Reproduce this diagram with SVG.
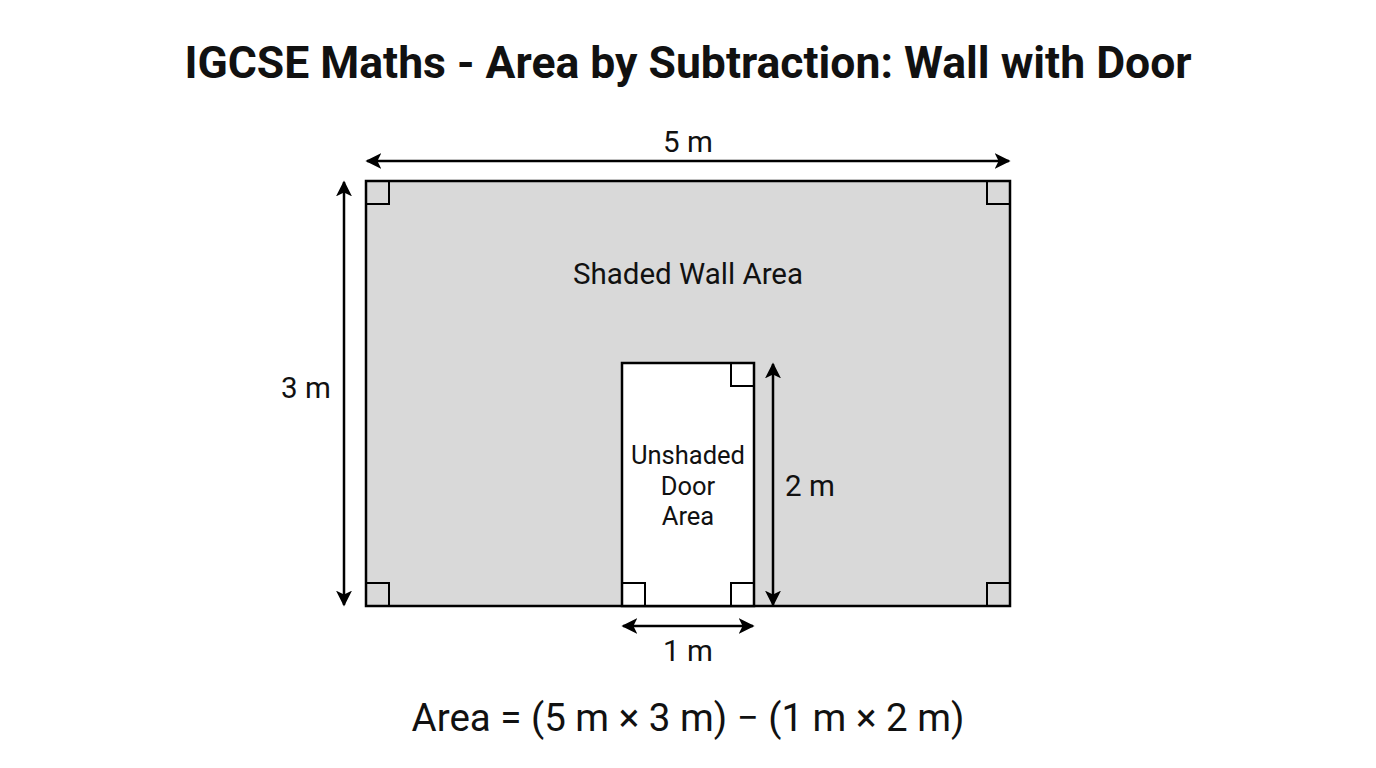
<svg xmlns="http://www.w3.org/2000/svg" width="1376" height="768" viewBox="0 0 1376 768">
<defs>
<marker id="ah" viewBox="0 0 10 10" refX="9" refY="5" markerWidth="16" markerHeight="16" markerUnits="userSpaceOnUse" orient="auto-start-reverse">
<path d="M0,0 L10,5 L0,10 L2.5,5 Z" fill="#000"/>
</marker>
<style>
text{font-family:Roboto,"Liberation Sans",sans-serif;fill:#111;text-anchor:middle}
.title{font-size:44.5px;font-weight:bold}
.lbl{font-size:29.5px}
.small{font-size:25.5px}
.dim{stroke:#000;stroke-width:2.5;fill:none}
.ra{stroke:#000;stroke-width:2;fill:none}
</style>
</defs>
<rect width="1376" height="768" fill="#fff"/>
<text class="title" x="688" y="78">IGCSE Maths - Area by Subtraction: Wall with Door</text>
<g id="wall">
<rect x="366" y="181" width="644" height="425" fill="#d9d9d9" stroke="#000" stroke-width="2.5"/>
<path class="ra" d="M366,204 H389 V181 M987,181 V204 H1010 M366,583 H389 V606 M987,606 V583 H1010"/>
<text class="lbl" x="688" y="284">Shaded Wall Area</text>
</g>
<g id="door">
<rect x="622" y="363" width="132" height="243" fill="#fff" stroke="#000" stroke-width="2.5"/>
<path class="ra" d="M731,363 V386 H754 M622,583 H645 V606 M731,606 V583 H754"/>
<text class="small" x="688" y="464">Unshaded</text>
<text class="small" x="688" y="495">Door</text>
<text class="small" x="688" y="525">Area</text>
</g>
<g id="connectors">
<line class="dim" x1="367" y1="161" x2="1009" y2="161" marker-start="url(#ah)" marker-end="url(#ah)"/>
<line class="dim" x1="344" y1="182" x2="344" y2="605" marker-start="url(#ah)" marker-end="url(#ah)"/>
<line class="dim" x1="773" y1="364" x2="773" y2="605" marker-start="url(#ah)" marker-end="url(#ah)"/>
<line class="dim" x1="623" y1="626" x2="753" y2="626" marker-start="url(#ah)" marker-end="url(#ah)"/>
</g>
<g id="labels">
<text class="lbl" x="688" y="152">5 m</text>
<text class="lbl" x="306" y="398">3 m</text>
<text class="lbl" x="810" y="496">2 m</text>
<text class="lbl" x="688" y="661">1 m</text>
<text style="font-size:38.5px" x="688" y="731">Area = (5 m × 3 m) − (1 m × 2 m)</text>
</g>
</svg>
